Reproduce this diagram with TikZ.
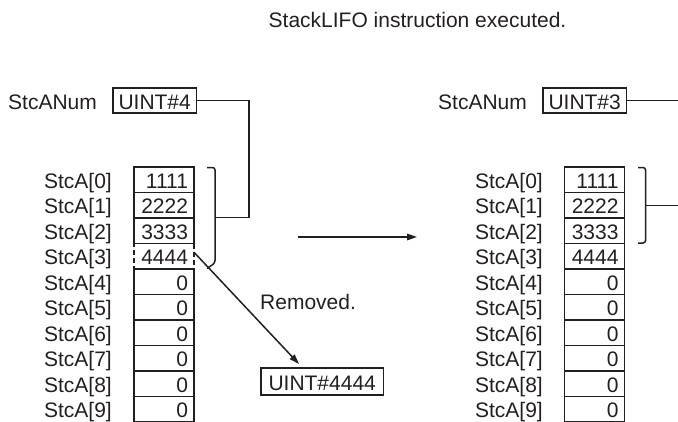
\documentclass[tikz,border=0pt]{standalone}
\usepackage{fontspec}
\setmainfont{Liberation Sans}
\usetikzlibrary{arrows.meta}
\definecolor{ink}{HTML}{231F20}
\begin{document}
\begin{tikzpicture}[x=1pt,y=-1pt,
  font=\fontsize{21}{25}\selectfont,
  every node/.style={text=ink},
  cell/.style={draw=ink, line width=1.7pt, minimum height=25.5pt, text width=48pt, align=right,
    inner xsep=6pt, inner ysep=0pt, text height=17pt, text depth=0pt, anchor=north west, outer sep=0pt},
  lbl/.style={anchor=east, inner sep=0pt, text height=17pt, text depth=0pt},
  plain/.style={inner sep=0pt, text height=17pt, text depth=0pt},
  valbox/.style={draw=ink, line width=1.7pt, minimum height=25pt, inner xsep=5.5pt, inner ysep=0pt,
    text height=17pt, text depth=0pt, anchor=west, outer sep=0pt},
  conn/.style={draw=ink, line width=1.5pt},
  arr/.style={conn, -{Triangle[length=10pt,width=6.5pt]}}]
\useasboundingbox (0,0) rectangle (678,421);

% title
\node[plain] (title) at (417.5,18.5) {StackLIFO instruction executed.};

% ---------- left ----------
\node[plain, anchor=west] (lnum) at (8,100.5) {StcANum};
\node[valbox] (n4) at (113,100.5) {UINT\#4};

\node[cell, dash pattern=on 5pt off 3pt] (L3) at (134,243.5) {4444};
\foreach \i/\v in {0/1111,1/2222,2/3333,4/0,5/0,6/0,7/0,8/0,9/0}{
  \node[cell] (L\i) at (134,167+25.5*\i) {\v};
}
\foreach \i in {0,...,9}{
  \node[lbl] (LL\i) at (112,179.75+25.5*\i) {StcA[\i]};
}

% left bracket
\draw[conn, rounded corners=2.5pt] (207,167.5) -- (215,167.5) -- (215,263) -- (207,268.5);
\coordinate (lbend) at (249,217.5);
\coordinate (lbm) at (215,217.5);
\draw[conn] (n4.east) -| (lbend) -- (lbm);

% removed
\node[plain, anchor=west] (remtxt) at (260,301) {Removed.};
\node[valbox, anchor=north west, minimum height=27pt, inner xsep=7.5pt] (rem) at (261,368) {UINT\#4444};
\draw[arr] ([yshift=4pt]L3.east) -- ([xshift=38pt,yshift=4pt]rem.north west);

% main arrow
\coordinate (ma) at (298,237);
\coordinate (mb) at (417,237);
\draw[arr] (ma) -- (mb);

% ---------- right ----------
\node[plain, anchor=west] (rnum) at (438,100.5) {StcANum};
\node[valbox] (n3) at (543,100.5) {UINT\#3};
\coordinate (rend) at (680,100.5);
\draw[conn] (n3.east) -- (rend);

\foreach \i/\v in {0/1111,1/2222,2/3333,3/4444,4/0,5/0,6/0,7/0,8/0,9/0}{
  \node[cell] (R\i) at (564.5,167+25.5*\i) {\v};
}
\foreach \i in {0,...,9}{
  \node[lbl] (RL\i) at (543,179.75+25.5*\i) {StcA[\i]};
}
\draw[conn, rounded corners=2.5pt] (638,167.5) -- (645.5,167.5) -- (645.5,243) -- (638,243);
\coordinate (rbm) at (645.5,205.5);
\coordinate (rbe) at (680,205.5);
\draw[conn] (rbm) -- (rbe);
\end{tikzpicture}
\end{document}
